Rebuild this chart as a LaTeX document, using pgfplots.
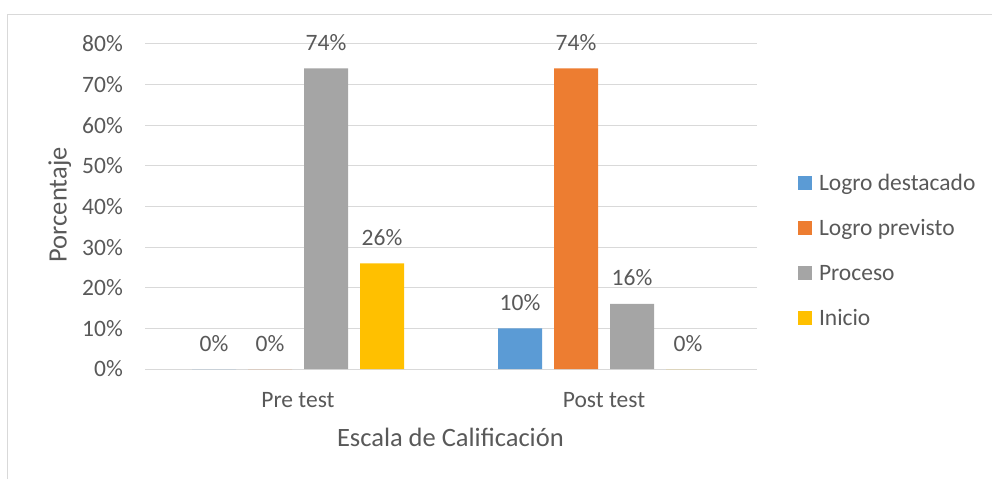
\documentclass[border=0pt]{standalone}
\usepackage{pgfplots}
\pgfplotsset{compat=1.18}
\usepackage{fontspec}
\setmainfont{Carlito}
\definecolor{txt}{HTML}{595959}
\definecolor{grd}{HTML}{D9D9D9}
\definecolor{cB}{HTML}{5B9BD5}
\definecolor{cO}{HTML}{ED7D31}
\definecolor{cG}{HTML}{A5A5A5}
\definecolor{cY}{HTML}{FFC000}
\begin{document}
\begin{tikzpicture}[x=1pt,y=1pt]
\useasboundingbox (0,0) rectangle (992,479);
\draw[grd, line width=1pt] (7.5,0) -- (7.5,464) -- (992,464);
\begin{axis}[
  at={(145pt,110pt)}, anchor=south west,
  scale only axis, width=612pt, height=325pt,
  xmin=-0.5, xmax=1.5, ymin=0, ymax=80,
  ybar=12pt, bar width=44pt,
  clip=false,
  axis line style={draw=none},
  major tick length=0pt,
  ytick={0,10,20,30,40,50,60,70,80},
  yticklabels={0\%,10\%,20\%,30\%,40\%,50\%,60\%,70\%,80\%},
  ymajorgrids, grid style={grd, line width=1pt},
  xtick={0,1}, xticklabels={Pre test, Post test},
  tick label style={font=\fontsize{23.5}{28}\selectfont, text=txt},
  yticklabel style={anchor=east, inner sep=0pt, xshift=-22pt},
  xticklabel style={anchor=base, inner sep=0pt, yshift=-38pt},
  xlabel={Escala de Calificación}, ylabel={Porcentaje},
  label style={font=\fontsize{26.5}{32}\selectfont, text=txt},
  xlabel style={at={(axis description cs:0.499,-0.239)}, anchor=base, inner sep=0pt},
  ylabel style={at={(axis description cs:-0.128,0.505)}, anchor=base, inner sep=0pt},
  nodes near coords={\pgfmathprintnumber[assume math mode=true]{\pgfplotspointmeta}\%},
  every node near coord/.append style={font=\fontsize{23.5}{28}\selectfont, text=txt, anchor=base, yshift=18pt, inner sep=0pt},
  legend style={at={(axis description cs:1.067,0.5969)}, anchor=north west, draw=none, fill=none,
    inner sep=0pt, outer sep=0pt, row sep=30.3pt, column sep=7pt,
    font=\fontsize{23.5}{28}\selectfont, text=txt,
    nodes={inner sep=0pt, text height=15pt, text depth=0pt}},
  legend cell align=left,
  legend image code/.code={\fill[#1] (0pt,-7pt) rectangle (14pt,7pt);},
]
\addplot[fill=cB, draw=none] coordinates {(0,0) (1,10)};
\addplot[fill=cO, draw=none] coordinates {(0,0) (1,74)};
\addplot[fill=cG, draw=none] coordinates {(0,74) (1,16)};
\addplot[fill=cY, draw=none] coordinates {(0,26) (1,0)};
\legend{Logro destacado, Logro previsto, Proceso, Inicio}
\end{axis}
\end{tikzpicture}
\end{document}
